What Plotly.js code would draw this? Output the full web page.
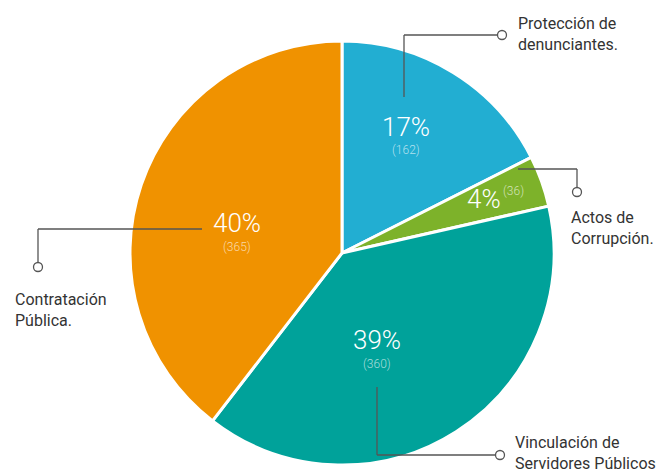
<!DOCTYPE html>
<html><head><meta charset="utf-8">
<script src="https://cdn.plot.ly/plotly-3.0.1.min.js"></script>
<style>html,body{margin:0;padding:0;background:#fff}#chart{width:658px;height:475px}</style>
</head><body><div id="chart"></div>
<script>
var categories = ["Protección de<br>denunciantes.", "Actos de<br>Corrupción.", "Vinculación de<br>Servidores Públicos", "Contratación<br>Pública."];
var values = [162, 36, 360, 365];
var percentLabels = ["17%", "4%", "39%", "40%"];
var countLabels = ["(162)", "(36)", "(360)", "(365)"];
var colors = ["#22AED2", "#7DB22A", "#00A29A", "#F09200"];

var W = 658, H = 475;
function px(x){ return x / W; }
function py(y){ return 1 - y / H; }
var FONT = "Roboto, 'Liberation Sans', sans-serif";

var trace = {
  type: 'pie', values: values, labels: categories, sort: false, direction: 'clockwise', rotation: 0,
  marker: {colors: colors, line: {color: '#ffffff', width: 3}},
  textinfo: 'none', hoverinfo: 'none', showlegend: false,
  domain: {x: [px(130), px(554)], y: [py(465), py(41)]}
};

var pctPos = [[406,127], [484,199], [377,340], [237,223]];
var cntPos = [[406,150], [513,191], [377,364], [237,247]];
var namePos = [[516,34], [569,228], [513,453], [13,310]];

var annotations = [];
for (var i = 0; i < values.length; i++) {
  annotations.push({xref:'paper', yref:'paper', x: px(pctPos[i][0]), y: py(pctPos[i][1]), xanchor:'center', yanchor:'middle',
    text: percentLabels[i], showarrow:false, font:{family:FONT, size:26, weight:300, color:'#ffffff'}});
  annotations.push({xref:'paper', yref:'paper', x: px(cntPos[i][0]), y: py(cntPos[i][1]), xanchor:'center', yanchor:'middle',
    text: countLabels[i], showarrow:false, font:{family:FONT, size:12, weight:300, color:'rgba(255,255,255,0.65)'}});
  annotations.push({xref:'paper', yref:'paper', x: px(namePos[i][0]), y: py(namePos[i][1]), xanchor:'left', yanchor:'middle',
    align:'left', text: categories[i], showarrow:false, font:{family:FONT, size:16, color:'#333333'}});
}

var lineStyle = {color:'#555555', width:1.3};
function seg(x0,y0,x1,y1){ return {type:'line', xref:'paper', yref:'paper', x0:px(x0), y0:py(y0), x1:px(x1), y1:py(y1), line:lineStyle}; }
function dot(x,y){ return {type:'circle', xref:'paper', yref:'paper', x0:px(x-4.5), x1:px(x+4.5), y0:py(y+4.5), y1:py(y-4.5), fillcolor:'#ffffff', line:{color:'#555555', width:1.3}}; }
var shapes = [
  seg(404,97,404,35), seg(404,35,497,35), dot(502,35),
  seg(518,169,577,169), seg(577,169,577,188), dot(577,192),
  seg(202,229,38,229), seg(38,229,38,263), dot(38,267),
  seg(377,387,377,455), seg(377,455,495,455), dot(500,455)
];

var layout = {width:W, height:H, margin:{l:0,r:0,t:0,b:0}, paper_bgcolor:'#ffffff', plot_bgcolor:'#ffffff',
  annotations: annotations, shapes: shapes, showlegend:false};
Plotly.newPlot('chart', [trace], layout, {displayModeBar:false, staticPlot:true});
</script></body></html>
